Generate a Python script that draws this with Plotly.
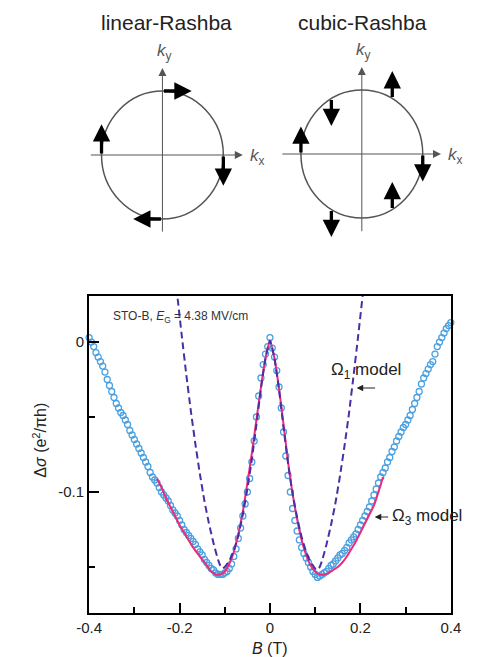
import math
import plotly.graph_objects as go

W, H = 477, 657

# ---------------- data ----------------
B_FIELD = [
    -0.400, -0.395, -0.390, -0.385, -0.380, -0.375, -0.370, -0.365, -0.360, -0.355,
    -0.350, -0.345, -0.340, -0.335, -0.330, -0.325, -0.320, -0.315, -0.310, -0.305,
    -0.300, -0.295, -0.290, -0.285, -0.280, -0.275, -0.270, -0.265, -0.260, -0.255,
    -0.250, -0.245, -0.240, -0.235, -0.230, -0.225, -0.220, -0.215, -0.210, -0.205,
    -0.200, -0.195, -0.190, -0.185, -0.180, -0.175, -0.170, -0.165, -0.160, -0.155,
    -0.150, -0.145, -0.140, -0.135, -0.130, -0.125, -0.120, -0.115, -0.110, -0.105,
    -0.100, -0.095, -0.090, -0.085, -0.080, -0.075, -0.070, -0.065, -0.060, -0.055,
    -0.050, -0.045, -0.040, -0.035, -0.030, -0.025, -0.020, -0.015, -0.010, -0.005,
    0.000,
    0.005, 0.010, 0.015, 0.020, 0.025, 0.030, 0.035, 0.040, 0.045, 0.050,
    0.055, 0.060, 0.065, 0.070, 0.075, 0.080, 0.085, 0.090, 0.095, 0.100,
    0.105, 0.110, 0.115, 0.120, 0.125, 0.130, 0.135, 0.140, 0.145, 0.150,
    0.155, 0.160, 0.165, 0.170, 0.175, 0.180, 0.185, 0.190, 0.195, 0.200,
    0.205, 0.210, 0.215, 0.220, 0.225, 0.230, 0.235, 0.240, 0.245, 0.250,
    0.255, 0.260, 0.265, 0.270, 0.275, 0.280, 0.285, 0.290, 0.295, 0.300,
    0.305, 0.310, 0.315, 0.320, 0.325, 0.330, 0.335, 0.340, 0.345, 0.350,
    0.355, 0.360, 0.365, 0.370, 0.375, 0.380, 0.385, 0.390, 0.395, 0.400,
]
DELTA_SIGMA = [
    0.003, 0.000, -0.003, -0.007, -0.010, -0.013, -0.016, -0.020, -0.025, -0.029,
    -0.033, -0.037, -0.041, -0.044, -0.047, -0.049, -0.052, -0.055, -0.059, -0.062,
    -0.065, -0.068, -0.071, -0.074, -0.077, -0.080, -0.083, -0.087, -0.090, -0.092,
    -0.094, -0.097, -0.100, -0.102, -0.104, -0.106, -0.109, -0.112, -0.114, -0.116,
    -0.119, -0.122, -0.125, -0.127, -0.129, -0.131, -0.133, -0.135, -0.138, -0.140,
    -0.142, -0.145, -0.147, -0.149, -0.151, -0.152, -0.154, -0.155, -0.155, -0.155,
    -0.154, -0.153, -0.151, -0.148, -0.143, -0.138, -0.131, -0.124, -0.116, -0.108,
    -0.100, -0.091, -0.080, -0.066, -0.050, -0.036, -0.024, -0.015, -0.008, -0.003,
    0.003,
    -0.004, -0.010, -0.019, -0.030, -0.044, -0.060, -0.076, -0.089, -0.100, -0.111,
    -0.119, -0.126, -0.132, -0.137, -0.141, -0.144, -0.147, -0.150, -0.153, -0.155,
    -0.157, -0.156, -0.155, -0.154, -0.153, -0.151, -0.149, -0.148, -0.146, -0.144,
    -0.142, -0.141, -0.139, -0.137, -0.134, -0.132, -0.130, -0.128, -0.125, -0.122,
    -0.119, -0.116, -0.113, -0.110, -0.106, -0.102, -0.098, -0.094, -0.090, -0.087,
    -0.084, -0.080, -0.077, -0.073, -0.070, -0.066, -0.063, -0.060, -0.057, -0.055,
    -0.052, -0.049, -0.045, -0.041, -0.037, -0.033, -0.028, -0.024, -0.021, -0.018,
    -0.015, -0.013, -0.008, -0.003, 0.000, 0.003, 0.006, 0.009, 0.011, 0.013,
]

OMEGA1_B = [
    -0.215, -0.205, -0.195, -0.185, -0.175, -0.165, -0.155, -0.145, -0.135, -0.125,
    -0.115, -0.110, -0.105, -0.100, -0.090, -0.080, -0.070, -0.060, -0.050, -0.040,
    -0.030, -0.020, -0.010, 0.000,
    0.010, 0.020, 0.030, 0.040, 0.050, 0.060, 0.070, 0.080, 0.090, 0.100,
    0.105, 0.110, 0.115, 0.125, 0.135, 0.145, 0.155, 0.165, 0.175, 0.185,
    0.195, 0.205, 0.215,
]
OMEGA1_DS = [
    0.058, 0.031, 0.004, -0.022, -0.046, -0.068, -0.088, -0.106, -0.121, -0.134,
    -0.145, -0.149, -0.151, -0.150, -0.146, -0.139, -0.129, -0.115, -0.098, -0.078,
    -0.055, -0.031, -0.011, 0.001,
    -0.011, -0.032, -0.057, -0.081, -0.101, -0.117, -0.130, -0.140, -0.147, -0.151,
    -0.152, -0.150, -0.146, -0.135, -0.122, -0.107, -0.089, -0.069, -0.047, -0.022,
    0.004, 0.031, 0.058,
]

OMEGA3_B = [
    -0.25, -0.24, -0.23, -0.22, -0.21, -0.20, -0.19, -0.18, -0.17, -0.16,
    -0.15, -0.14, -0.13, -0.12, -0.11, -0.10, -0.09, -0.08, -0.07, -0.06,
    -0.05, -0.04, -0.03, -0.02, -0.01, 0.00,
    0.01, 0.02, 0.03, 0.04, 0.05, 0.06, 0.07, 0.08, 0.09, 0.10,
    0.11, 0.12, 0.13, 0.14, 0.15, 0.16, 0.17, 0.18, 0.19, 0.20,
    0.21, 0.22, 0.23, 0.24, 0.25,
]
OMEGA3_DS = [
    -0.091, -0.097, -0.104, -0.110, -0.116, -0.122, -0.127, -0.132, -0.137, -0.141,
    -0.145, -0.149, -0.153, -0.155, -0.155, -0.153, -0.148, -0.140, -0.128, -0.113,
    -0.094, -0.074, -0.052, -0.030, -0.011, 0.001,
    -0.011, -0.031, -0.055, -0.080, -0.101, -0.118, -0.132, -0.142, -0.149, -0.153,
    -0.155, -0.155, -0.154, -0.152, -0.150, -0.147, -0.143, -0.138, -0.133, -0.127,
    -0.121, -0.115, -0.109, -0.100, -0.090,
]

X_TICKS = [-0.4, -0.2, 0, 0.2, 0.4]
X_TICK_TEXT = ["-0.4", "-0.2", "0", "0.2", "0.4"]
X_MINOR = [-0.3, -0.1, 0.1, 0.3]
Y_TICKS = [0, -0.1]
Y_TICK_TEXT = ["0", "-0.1"]
Y_MINOR = [-0.05, -0.15]

# spin texture diagrams: position angle on the Fermi circle and spin direction (degrees)
LINEAR_THETA = [90, 0, 270, 180]
LINEAR_SPIN = [0, -90, 180, 90]
CUBIC_THETA = [60, 120, 180, 0, 300, 240]
CUBIC_SPIN = [90, -90, 90, -90, 90, -90]

# ---------------- helpers ----------------
FONT = "Arial, Liberation Sans, Helvetica, sans-serif"


def px(x):
    return x / W


def py(y):
    return 1 - y / H


fig = go.Figure()

fig.add_trace(go.Scatter(
    x=B_FIELD, y=DELTA_SIGMA, mode="markers",
    marker=dict(symbol="circle-open", size=6, color="#4aa0e0", line=dict(width=1.3, color="#4aa0e0")),
    cliponaxis=False, showlegend=False, hoverinfo="skip",
))
fig.add_trace(go.Scatter(
    x=OMEGA3_B, y=OMEGA3_DS, mode="lines",
    line=dict(color="#ee2a7b", width=2, shape="spline", smoothing=0.6),
    showlegend=False, hoverinfo="skip",
))
fig.add_trace(go.Scatter(
    x=OMEGA1_B, y=OMEGA1_DS, mode="lines",
    line=dict(color="#4b2ea5", width=2, dash="7px,4px", shape="spline", smoothing=0.4),
    showlegend=False, hoverinfo="skip",
))

axis_font = dict(family=FONT, size=15, color="#222")

layout = dict(
    width=W, height=H, autosize=False,
    margin=dict(l=0, r=0, t=0, b=0),
    paper_bgcolor="white", plot_bgcolor="white",
    showlegend=False,
    font=dict(family=FONT, color="#222"),
    xaxis=dict(
        domain=[px(80), px(460)], range=[-0.4, 0.4], anchor="y",
        showgrid=False, zeroline=False, showline=True, linewidth=2, linecolor="black", mirror=True,
        ticks="inside", ticklen=10, tickwidth=1.5, tickcolor="black",
        tickmode="array", tickvals=X_TICKS, ticktext=X_TICK_TEXT, tickfont=axis_font,
        minor=dict(tickmode="array", tickvals=X_MINOR, ticks="inside", ticklen=6, tickwidth=1.5, tickcolor="black"),
        fixedrange=True,
    ),
    yaxis=dict(
        domain=[py(613), py(296)], range=[-0.1807, 0.0307], anchor="x",
        showgrid=False, zeroline=False, showline=True, linewidth=2, linecolor="black", mirror=True,
        ticks="inside", ticklen=10, tickwidth=1.5, tickcolor="black",
        tickmode="array", tickvals=Y_TICKS, ticktext=Y_TICK_TEXT, tickfont=axis_font,
        minor=dict(tickmode="array", tickvals=Y_MINOR, ticks="inside", ticklen=6, tickwidth=1.5, tickcolor="black"),
        fixedrange=True,
    ),
)

shapes = []
annotations = []


def diagram(idx, cx, cy, R, box, kx_ext, ky_ext, thetas, spins, arrow_len, title, title_x):
    x0, x1, y0, y1 = box
    xa, ya = "xaxis%d" % idx, "yaxis%d" % idx
    xr, yr = "x%d" % idx, "y%d" % idx
    layout[xa] = dict(domain=[px(x0), px(x1)], range=[(x0 - cx) / R, (x1 - cx) / R],
                      anchor=yr, visible=False, fixedrange=True)
    layout[ya] = dict(domain=[py(y1), py(y0)], range=[(cy - y1) / R, (cy - y0) / R],
                      anchor=xr, visible=False, fixedrange=True)
    shapes.append(dict(type="circle", xref=xr, yref=yr, x0=-1, x1=1, y0=-1, y1=1,
                       line=dict(color="#555", width=1.5)))
    # k axes
    annotations.append(dict(xref=xr, yref=yr, axref=xr, ayref=yr, x=kx_ext[1], y=0, ax=kx_ext[0], ay=0,
                            text="", showarrow=True, arrowhead=2, arrowsize=1.6, arrowwidth=1, arrowcolor="#555"))
    annotations.append(dict(xref=xr, yref=yr, axref=xr, ayref=yr, x=0, y=ky_ext[1], ax=0, ay=ky_ext[0],
                            text="", showarrow=True, arrowhead=2, arrowsize=1.6, arrowwidth=1, arrowcolor="#555"))
    annotations.append(dict(xref=xr, yref=yr, x=kx_ext[1] + 0.24, y=-0.03, text="<i>k</i><sub>x</sub>",
                            xanchor="center", yanchor="middle",
                            showarrow=False, font=dict(size=17, color="#555")))
    annotations.append(dict(xref=xr, yref=yr, x=0.03, y=ky_ext[1] + 0.25, text="<i>k</i><sub>y</sub>",
                            xanchor="center", yanchor="middle",
                            showarrow=False, font=dict(size=17, color="#555")))
    for th, sp in zip(thetas, spins):
        tx, ty = math.cos(math.radians(th)), math.sin(math.radians(th))
        hx = tx + arrow_len * math.cos(math.radians(sp))
        hy = ty + arrow_len * math.sin(math.radians(sp))
        annotations.append(dict(xref=xr, yref=yr, axref=xr, ayref=yr, x=hx, y=hy, ax=tx, ay=ty,
                                text="", showarrow=True, arrowhead=2, arrowsize=1.05, arrowwidth=3.3,
                                arrowcolor="black"))
    annotations.append(dict(xref="paper", yref="paper", x=px(title_x), y=py(23), text=title,
                            xanchor="center", yanchor="middle",
                            showarrow=False, font=dict(size=21, color="#222")))


diagram(2, 157, 155, 64, (66, 266, 40, 250), (-1.2, 1.32), (-1.22, 1.36),
        LINEAR_THETA, LINEAR_SPIN, 0.48, "linear-Rashba", 161)
diagram(3, 366.5, 154, 64, (272, 477, 40, 250), (-1.33, 1.30), (-1.23, 1.36),
        CUBIC_THETA, CUBIC_SPIN, 0.43, "cubic-Rashba", 367)


def ptext(x, y, text, size, xanchor="center", color="#222", angle=0):
    return dict(xref="paper", yref="paper", x=px(x), y=py(y), xanchor=xanchor, yanchor="middle",
                text=text, showarrow=False, textangle=angle, font=dict(size=size, color=color))


def parrow(x_tip, y, length):
    return dict(xref="paper", yref="paper", x=px(x_tip), y=py(y), ax=length, ay=0, text="",
                showarrow=True, arrowhead=2, arrowsize=1.2, arrowwidth=1.1, arrowcolor="#222")


annotations += [
    ptext(103, 317, "STO-B, <i>E</i><sub>G</sub> = 4.38 MV/cm", 12, "left", "#333"),
    ptext(332, 371, "Ω<sub>1</sub> model", 17, "left"),
    parrow(361, 388, 20),
    parrow(380, 517, 15),
    ptext(396, 517, "Ω<sub>3</sub> model", 17, "left"),
    ptext(28, 440, "Δ<i>σ</i> (e<sup>2</sup>/πh)", 16, angle=-90),
    ptext(270, 648, "<i>B</i> (T)", 16),
]

layout["shapes"] = shapes
layout["annotations"] = annotations
fig.update_layout(**layout)

fig.write_html("out.html", config={"displayModeBar": False},
               post_script="document.body.style.margin='0';document.body.style.overflow='hidden';")
